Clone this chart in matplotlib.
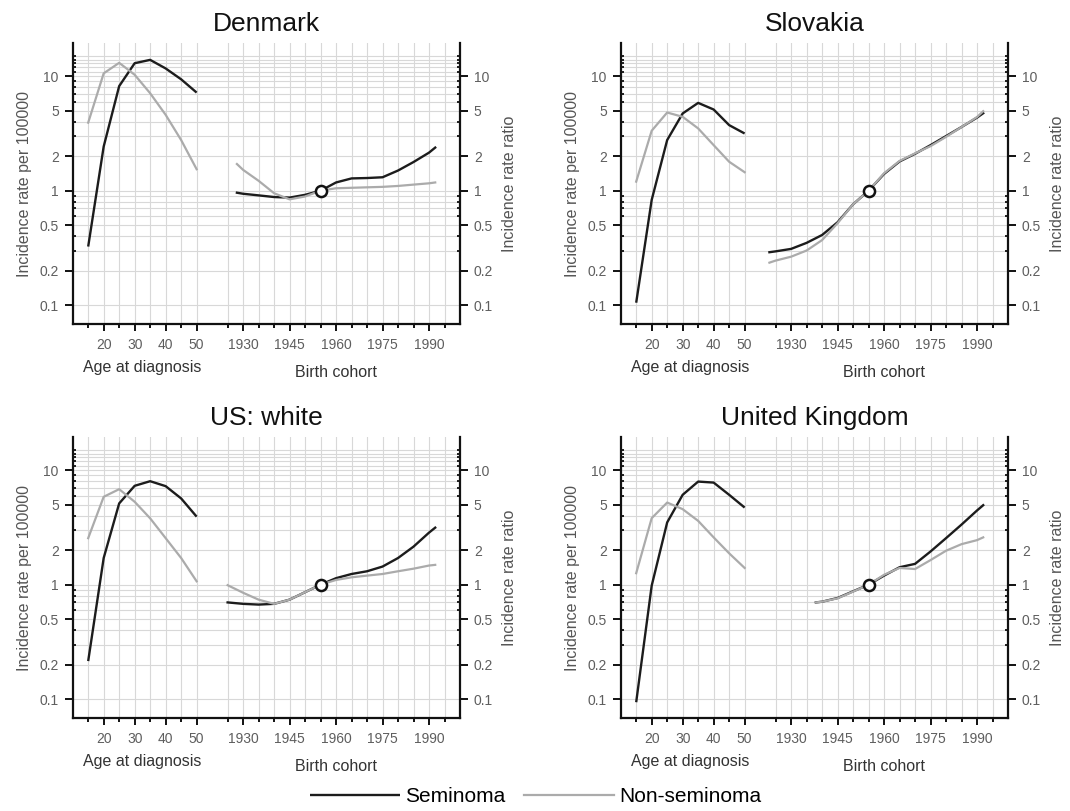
import matplotlib
matplotlib.use("Agg")
import matplotlib.pyplot as plt
from matplotlib.ticker import FixedLocator, FixedFormatter, NullFormatter

plt.rcParams['font.family'] = ['Liberation Sans', 'DejaVu Sans']

# ---------------- data ----------------
countries = ['Denmark', 'Slovakia', 'US: white', 'United Kingdom']
ages = [15, 20, 25, 30, 35, 40, 45, 50]

dk_sem_age = [0.325, 2.43, 8.2, 13.0, 13.9, 11.7, 9.4, 7.2]
dk_non_age = [3.93, 10.6, 13.1, 10.3, 7.1, 4.6, 2.77, 1.54]
dk_cohort = [1928, 1930, 1935, 1940, 1945, 1950, 1955, 1960, 1965, 1970, 1975, 1980, 1985, 1990, 1992]
dk_sem_coh = [0.96, 0.94, 0.91, 0.88, 0.87, 0.92, 1.0, 1.18, 1.28, 1.29, 1.31, 1.50, 1.78, 2.15, 2.38]
dk_non_coh = [1.71, 1.52, 1.22, 0.95, 0.84, 0.89, 1.0, 1.05, 1.06, 1.07, 1.08, 1.10, 1.13, 1.16, 1.18]

sk_sem_age = [0.105, 0.83, 2.77, 4.73, 5.85, 5.12, 3.74, 3.16]
sk_non_age = [1.20, 3.34, 4.82, 4.42, 3.5, 2.5, 1.79, 1.45]
sk_cohort = [1923, 1925, 1930, 1935, 1940, 1945, 1950, 1955, 1960, 1965, 1970, 1975, 1980, 1985, 1990, 1992]
sk_sem_coh = [0.29, 0.295, 0.31, 0.35, 0.41, 0.53, 0.76, 1.0, 1.40, 1.80, 2.10, 2.50, 3.00, 3.60, 4.35, 4.75]
sk_non_coh = [0.235, 0.245, 0.265, 0.30, 0.37, 0.52, 0.76, 1.0, 1.42, 1.82, 2.12, 2.45, 2.95, 3.60, 4.40, 4.95]

us_sem_age = [0.215, 1.71, 5.13, 7.31, 8.02, 7.26, 5.67, 3.93]
us_non_age = [2.55, 5.86, 6.83, 5.3, 3.8, 2.55, 1.71, 1.07]
us_cohort = [1925, 1930, 1935, 1940, 1945, 1950, 1955, 1960, 1965, 1970, 1975, 1980, 1985, 1990, 1992]
us_sem_coh = [0.70, 0.68, 0.67, 0.68, 0.74, 0.86, 1.0, 1.14, 1.24, 1.31, 1.44, 1.71, 2.15, 2.85, 3.15]
us_non_coh = [0.99, 0.85, 0.74, 0.68, 0.74, 0.86, 1.0, 1.10, 1.16, 1.20, 1.24, 1.31, 1.38, 1.47, 1.49]

uk_sem_age = [0.094, 0.98, 3.5, 6.1, 7.96, 7.8, 6.1, 4.72]
uk_non_age = [1.26, 3.81, 5.22, 4.57, 3.61, 2.59, 1.88, 1.40]
uk_cohort = [1938, 1940, 1945, 1950, 1955, 1960, 1965, 1970, 1975, 1980, 1985, 1990, 1992]
uk_sem_coh = [0.70, 0.71, 0.765, 0.875, 1.0, 1.2, 1.42, 1.52, 1.95, 2.55, 3.35, 4.45, 4.95]
uk_non_coh = [0.70, 0.71, 0.76, 0.87, 1.0, 1.22, 1.40, 1.37, 1.64, 1.98, 2.26, 2.45, 2.59]

ref_cohort = 1955
age_tick_labels = ['20', '30', '40', '50']
cohort_tick_labels = ['1930', '1945', '1960', '1975', '1990']
r_major = [0.1, 0.2, 0.5, 1, 2, 5, 10]
r_minor = [0.3, 0.4, 0.6, 0.7, 0.8, 0.9, 3, 4, 6, 7, 8, 9, 11, 12, 13, 14, 15]

panels = [
    (dk_sem_age, dk_non_age, dk_cohort, dk_sem_coh, dk_non_coh),
    (sk_sem_age, sk_non_age, sk_cohort, sk_sem_coh, sk_non_coh),
    (us_sem_age, us_non_age, us_cohort, us_sem_coh, us_non_coh),
    (uk_sem_age, uk_non_age, uk_cohort, uk_sem_coh, uk_non_coh),
]

# ---------------- layout / style ----------------
OFFSET = 1865          # cohort year -> common x coordinate (year - OFFSET)
W, H = 1070, 811
AW, AH = 387.3, 281.0
boxes = [(72.7, 43.3), (620.7, 43.3), (72.7, 437.3), (620.7, 437.3)]
SEM_C = '#1c1c1c'
NON_C = '#ababab'
GRID_C = '#d8d8d8'
TICK_C = '#5e5e5e'

fig = plt.figure(figsize=(W / 100, H / 100), dpi=100)

age_major = [20, 30, 40, 50]
age_minor = [15, 25, 35, 45]
coh_major = [int(c) - OFFSET for c in cohort_tick_labels]
coh_minor = [c - OFFSET for c in range(1925, 1996, 5) if str(c) not in cohort_tick_labels]

handles = None
for name, (x0, top), (sa, na, coh, sc, nc) in zip(countries, boxes, panels):
    ax = fig.add_axes([x0 / W, 1 - (top + AH) / H, AW / W, AH / H])
    ax.set_yscale('log')
    ax.set_xlim(10, 135)
    ax.set_ylim(0.068, 19.4)

    cx = [c - OFFSET for c in coh]
    l1, = ax.plot(ages, sa, color=SEM_C, lw=1.7, solid_capstyle='butt', zorder=3)
    ax.plot(cx, sc, color=SEM_C, lw=1.7, zorder=3)
    l2, = ax.plot(ages, na, color=NON_C, lw=1.6, zorder=3.1)
    ax.plot(cx, nc, color=NON_C, lw=1.6, zorder=3.1)
    ax.plot([ref_cohort - OFFSET], [1], 'o', mfc='white', mec='#111111',
            ms=8, mew=1.8, zorder=5)
    if handles is None:
        handles = [l1, l2]

    # x ticks
    ax.xaxis.set_major_locator(FixedLocator(age_major + coh_major))
    ax.xaxis.set_major_formatter(FixedFormatter(age_tick_labels + cohort_tick_labels))
    ax.xaxis.set_minor_locator(FixedLocator(age_minor + coh_minor))
    ax.xaxis.set_minor_formatter(NullFormatter())
    # y ticks
    ax.yaxis.set_major_locator(FixedLocator(r_major))
    ax.yaxis.set_major_formatter(FixedFormatter([('%g' % v) for v in r_major]))
    ax.yaxis.set_minor_locator(FixedLocator(r_minor))
    ax.yaxis.set_minor_formatter(NullFormatter())

    ax.tick_params(axis='x', which='major', direction='out', length=5, width=1.4,
                   color='#111111', labelsize=10, labelcolor=TICK_C, pad=5)
    ax.tick_params(axis='x', which='minor', direction='out', length=3.2, width=1.4,
                   color='#111111')
    ax.tick_params(axis='y', which='major', direction='out', length=6, width=1.4,
                   color='#111111', labelsize=10, labelcolor=TICK_C, pad=4,
                   left=True, right=True, labelleft=True, labelright=True)
    ax.tick_params(axis='y', which='minor', direction='in', length=2.4, width=1.3,
                   color='#111111', left=True, right=True)

    ax.grid(True, which='both', color=GRID_C, lw=0.8, zorder=0)
    ax.set_axisbelow(True)

    for s in ['left', 'right', 'bottom']:
        ax.spines[s].set_linewidth(1.6)
        ax.spines[s].set_color('#111111')
    ax.spines['top'].set_visible(False)

    ax.text(0.5, 1.042, name, transform=ax.transAxes, ha='center', va='baseline',
            fontsize=19, color='#111111')
    ax.text(-0.1257, 0.5, 'Incidence rate per 100000', transform=ax.transAxes,
            rotation=90, ha='center', va='center', fontsize=11.5, color='#555555')
    ax.text(1.129, 0.5, 'Incidence rate ratio', transform=ax.transAxes,
            rotation=90, ha='center', va='center', fontsize=11.5, color='#555555')
    ax.text(32.5, -0.171, 'Age at diagnosis', transform=ax.get_xaxis_transform(),
            ha='center', va='baseline', fontsize=11.5, color='#333333')
    ax.text(1960 - OFFSET, -0.189, 'Birth cohort', transform=ax.get_xaxis_transform(),
            ha='center', va='baseline', fontsize=11.5, color='#333333')

fig.legend(handles, ['Seminoma', 'Non-seminoma'], loc='center',
           bbox_to_anchor=(0.5005, 1 - 797 / H), ncol=2, frameon=False,
           fontsize=15, handlelength=4.3, handletextpad=0.25, columnspacing=0.9)

fig.savefig('out.png', dpi=100, facecolor='white')
